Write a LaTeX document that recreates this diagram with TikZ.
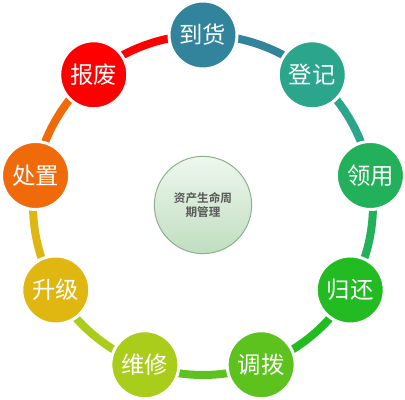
\documentclass[tikz,border=0pt]{standalone}
\usepackage{fontspec}
\newfontfamily\cjk{Noto Sans CJK SC}
\newfontfamily\cjkb{Noto Sans CJK SC Bold}
\definecolor{c1}{HTML}{31849B}
\definecolor{c2}{HTML}{2CA58D}
\definecolor{c3}{HTML}{22B05A}
\definecolor{c4}{HTML}{22BB22}
\definecolor{c5}{HTML}{5EC21E}
\definecolor{c6}{HTML}{AACC1A}
\definecolor{c7}{HTML}{E0B710}
\definecolor{c8}{HTML}{F06A0A}
\definecolor{c9}{HTML}{FF0000}
\definecolor{ctop}{HTML}{EEF7EE}
\definecolor{cbot}{HTML}{C0DEC0}
\definecolor{cline}{HTML}{8DB08D}
\definecolor{ctext}{HTML}{595959}
\tikzset{
  stage/.style={circle, minimum size=51pt, inner sep=0pt, draw=white, line width=2.25pt,
    text=white, font=\cjk\fontsize{17.5pt}{19pt}\selectfont},
  ring/.style={line width=6pt},
  hub/.style={circle, minimum size=73pt, inner sep=0pt, draw=cline, line width=0.75pt,
    top color=ctop, bottom color=cbot, text=ctext, align=center,
    font=\cjkb\fontsize{8.7pt}{10.5pt}\selectfont}
}
\begin{document}
\begin{tikzpicture}[x=0.75pt,y=0.75pt]
\useasboundingbox (0,0) rectangle (405,400);
\coordinate (O) at (203,195);
\node[hub] (hub) at (O) {资产生命周\\期管理};
% stage positions
\path (O) ++(90:170) coordinate (p1);
\path (O) ++(50:170) coordinate (p2);
\path (O) ++(10:170) coordinate (p3);
\path (O) ++(-30:170) coordinate (p4);
\path (O) ++(-70:170) coordinate (p5);
\path (O) ++(-110:170) coordinate (p6);
\path (O) ++(-150:170) coordinate (p7);
\path (O) ++(170:170) coordinate (p8);
\path (O) ++(130:170) coordinate (p9);
% ring arcs
\draw[ring, c1] (p1) arc[start angle=90, delta angle=-40, radius=170];
\draw[ring, c2] (p2) arc[start angle=50, delta angle=-40, radius=170];
\draw[ring, c3] (p3) arc[start angle=10, delta angle=-40, radius=170];
\draw[ring, c4] (p4) arc[start angle=-30, delta angle=-40, radius=170];
\draw[ring, c5] (p5) arc[start angle=-70, delta angle=-40, radius=170];
\draw[ring, c6] (p6) arc[start angle=-110, delta angle=-40, radius=170];
\draw[ring, c7] (p7) arc[start angle=-150, delta angle=-40, radius=170];
\draw[ring, c8] (p8) arc[start angle=170, delta angle=-40, radius=170];
\draw[ring, c9] (p9) arc[start angle=130, delta angle=-40, radius=170];
% stages
\node[stage, fill=c1] (n1) at (p1) {到货};
\node[stage, fill=c2] (n2) at (p2) {登记};
\node[stage, fill=c3] (n3) at (p3) {领用};
\node[stage, fill=c4] (n4) at (p4) {归还};
\node[stage, fill=c5] (n5) at (p5) {调拨};
\node[stage, fill=c6] (n6) at (p6) {维修};
\node[stage, fill=c7] (n7) at (p7) {升级};
\node[stage, fill=c8] (n8) at (p8) {处置};
\node[stage, fill=c9] (n9) at (p9) {报废};
\end{tikzpicture}
\end{document}
